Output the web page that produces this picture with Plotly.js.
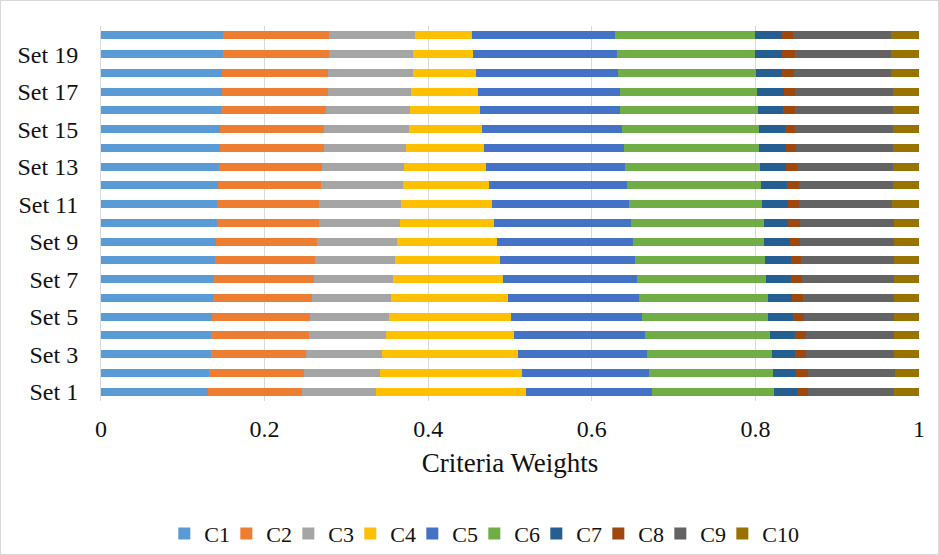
<!DOCTYPE html>
<html>
<head>
<meta charset="utf-8">
<script src="https://cdn.plot.ly/plotly-3.0.1.min.js"></script>
<style>
html,body{margin:0;padding:0;background:#fff;}
#chart{width:939px;height:555px;box-sizing:border-box;border:1px solid #d9d9d9;}
</style>
</head>
<body>
<div id="chart"></div>
<script>
const sets = ["Set 1","Set 2","Set 3","Set 4","Set 5","Set 6","Set 7","Set 8","Set 9","Set 10",
  "Set 11","Set 12","Set 13","Set 14","Set 15","Set 16","Set 17","Set 18","Set 19","Set 20"];
const tickLabels = ["Set 1","Set 3","Set 5","Set 7","Set 9","Set 11","Set 13","Set 15","Set 17","Set 19"];
const criteria = ["C1","C2","C3","C4","C5","C6","C7","C8","C9","C10"];
const colors = ["#5B9BD5","#ED7D31","#A5A5A5","#FFC000","#4472C4","#70AD47","#255E91","#9E480E","#636363","#997300"];

const C1  = [.131,.132,.134,.135,.136,.137,.138,.139,.140,.142,.142,.143,.144,.145,.146,.147,.148,.148,.149,.149];
const C2  = [.115,.116,.117,.119,.120,.121,.122,.123,.124,.124,.125,.126,.126,.127,.127,.128,.129,.130,.130,.130];
const C3  = [.090,.093,.093,.095,.096,.097,.097,.098,.098,.099,.100,.100,.101,.101,.103,.103,.102,.103,.103,.105];
const C4  = [.184,.174,.166,.156,.149,.142,.135,.128,.122,.115,.111,.105,.100,.095,.090,.085,.082,.077,.073,.069];
const C5  = [.153,.155,.158,.160,.160,.161,.163,.165,.166,.168,.167,.169,.170,.171,.171,.172,.173,.174,.176,.175];
const C6  = [.150,.152,.152,.153,.155,.157,.158,.159,.160,.162,.163,.164,.165,.166,.167,.168,.168,.169,.169,.172];
const C7  = [.029,.028,.029,.030,.030,.030,.031,.031,.032,.030,.032,.032,.032,.032,.032,.031,.033,.032,.032,.033];
const C8  = [.012,.014,.013,.014,.014,.013,.013,.013,.013,.014,.013,.014,.013,.013,.013,.015,.013,.014,.016,.013];
const C9  = [.106,.107,.108,.108,.110,.112,.112,.113,.114,.115,.114,.115,.117,.118,.119,.119,.120,.119,.118,.120];
const C10 = [.030,.029,.030,.030,.030,.030,.031,.031,.031,.031,.033,.032,.032,.032,.032,.032,.032,.034,.034,.034];

const series = [C1,C2,C3,C4,C5,C6,C7,C8,C9,C10];

const traces = series.map((vals, i) => {
  const t = {
    type: 'bar',
    orientation: 'h',
    name: criteria[i],
    x: vals,
    y: sets,
    marker: {color: colors[i], line: {width: 0}},
    hoverinfo: 'x+y+name'
  };
  if (criteria[i].length > 2) t.legendwidth = 36;
  return t;
});

const font = "Times New Roman, Liberation Serif, DejaVu Serif, serif";
const ink = '#111';

const layout = {
  width: 939, height: 555,
  barmode: 'stack',
  bargap: 0.58,
  paper_bgcolor: 'rgba(0,0,0,0)',
  plot_bgcolor: '#fff',
  margin: {l: 100, r: 21, t: 25, b: 155, autoexpand: false},
  font: {family: font, color: ink, size: 24},
  showlegend: true,
  legend: {
    orientation: 'h', x: 0.468, xanchor: 'center',
    yref: 'container', y: 0.04, yanchor: 'middle',
    font: {family: font, size: 22, color: ink},
    traceorder: 'normal', itemwidth: 30, entrywidth: 17
  },
  xaxis: {
    range: [0, 1],
    tickvals: [0, 0.2, 0.4, 0.6, 0.8, 1],
    ticktext: ["0","0.2","0.4","0.6","0.8","1"],
    showgrid: true, gridcolor: '#d9d9d9', gridwidth: 1,
    zeroline: false, showline: false,
    ticks: 'outside', ticklen: 6, tickcolor: 'rgba(0,0,0,0)',
    tickfont: {family: font, size: 24, color: ink},
    automargin: false,
    title: {text: 'Criteria Weights', font: {family: font, size: 27, color: ink}, standoff: 12}
  },
  yaxis: {
    type: 'category',
    categoryorder: 'array', categoryarray: sets,
    tickvals: tickLabels, ticktext: tickLabels,
    showgrid: false, zeroline: false,
    showline: true, linecolor: '#d9d9d9', linewidth: 1,
    ticks: 'outside', ticklen: 17, tickcolor: 'rgba(0,0,0,0)',
    tickfont: {family: font, size: 24, color: ink},
    automargin: false,
    range: [-0.5, 19.5]
  }
};

Plotly.newPlot('chart', traces, layout, {displayModeBar: false, staticPlot: true});
</script>
</body>
</html>
